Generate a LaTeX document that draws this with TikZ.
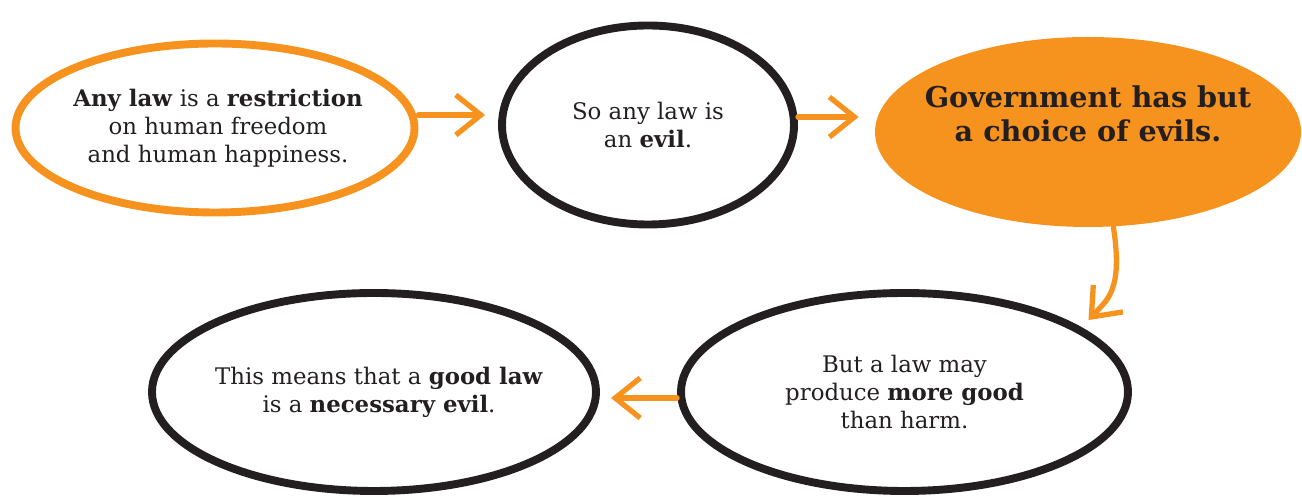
\documentclass[tikz,border=0pt]{standalone}
\usepackage{fontspec}
\setmainfont{DejaVu Serif}
\usetikzlibrary{arrows.meta,positioning,shapes.geometric}
\usepackage{xcolor}
\definecolor{laworange}{RGB}{246,146,30}
\definecolor{inkblack}{RGB}{35,31,32}
\tikzset{
  bubble/.style  = {ellipse,draw=inkblack,line width=4.5pt,inner sep=0pt},
  obubble/.style = {bubble,draw=laworange},
  fbubble/.style = {ellipse,fill=laworange,inner sep=0pt},
  txt/.style     = {align=center,text=inkblack,font=\fontsize{13}{16}\selectfont},
  headline/.style= {align=center,text=inkblack,
                    font=\bfseries\fontsize{16.3}{19.5}\selectfont},
  flow/.style    = {-{Straight Barb[length=0.5cm,width=0.8cm]},line width=3pt,
                    color=laworange,line cap=round},
}

\begin{document}
\begin{tikzpicture}
  \useasboundingbox (0,0) rectangle (26.04,9.94);
  % top row
  \node[obubble,minimum width=7.98cm,minimum height=3.38cm] (law) at (4.30,7.38) {};
  \node[txt] (lawtext) at ([xshift=0.06cm]law.center)
    {\textbf{Any law} is a \textbf{restriction}\\on human freedom\\and human happiness.};
  \node[bubble,minimum width=5.84cm,minimum height=3.98cm] (evil) at (12.96,7.44) {};
  \node[txt] (eviltext) at (evil.center) {So any law is\\an \textbf{evil}.};
  \node[fbubble,minimum width=8.52cm,minimum height=3.8cm] (gov) at (21.76,7.30) {};
  \node[headline] (govtext) at ([yshift=0.36cm]gov.center)
    {Government has but\\a choice of evils.};
  % bottom row
  \node[bubble,minimum width=8.94cm,minimum height=3.96cm] (good) at (18.09,2.10) {};
  \node[txt] (goodtext) at (good.center)
    {But a law may\\produce \textbf{more good}\\than harm.};
  \node[bubble,minimum width=8.88cm,minimum height=3.96cm] (necessary) at (7.48,2.10) {};
  \node[txt] (necessarytext) at ([xshift=0.1cm]necessary.center)
    {This means that a \textbf{good law}\\is a \textbf{necessary evil}.};
  % arrows
  \draw[flow,shorten >=0.26cm] ([yshift=0.26cm]law.east) -- ([yshift=0.2cm]evil.west);
  \draw[flow,shorten >=0.32cm] ([yshift=0.16cm]evil.east) -- ([yshift=0.3cm]gov.west);
  \draw[flow,shorten >=0.2cm] (gov.285) .. controls +(0.2,-1.3) and +(0.5,0.55) .. (good.20);
  \draw[flow,shorten >=0.22cm] ([yshift=-0.12cm]good.west) -- ([yshift=-0.12cm]necessary.east);
\end{tikzpicture}
\end{document}
